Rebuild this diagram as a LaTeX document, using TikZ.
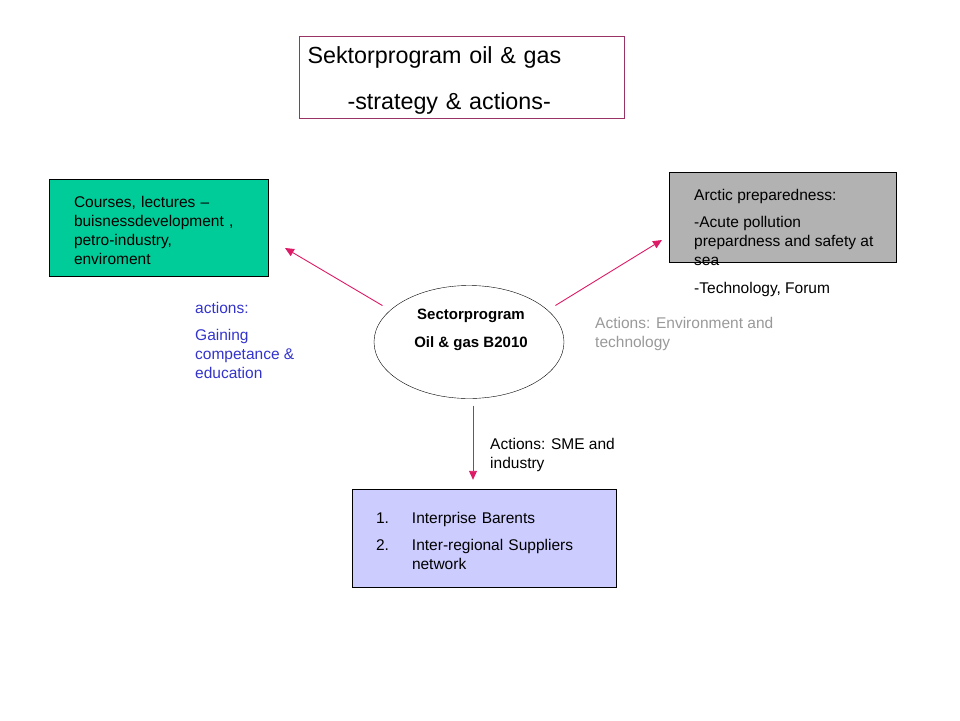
\documentclass[tikz,border=0pt]{standalone}
\usepackage{fontspec}
\setmainfont{Liberation Sans}
\usepackage{xcolor}
\usetikzlibrary{arrows.meta,positioning,calc,shapes.geometric}

\definecolor{framepink}{HTML}{993366}
\definecolor{arrowpink}{HTML}{DD1A66}
\definecolor{coursegreen}{HTML}{00CC99}
\definecolor{arcticgrey}{HTML}{B2B2B2}
\definecolor{smeblue}{HTML}{CCCCFF}
\definecolor{actblue}{HTML}{3333CC}
\definecolor{actgrey}{HTML}{999999}

\begin{document}
\begin{tikzpicture}[x=1pt, y=-1pt,
      font=\fontsize{15.5}{19}\selectfont,
      box/.style={draw, align=left, inner xsep=0pt, inner ysep=0pt},
      note/.style={align=left, anchor=north west, inner sep=0pt},
      act/.style={draw=arrowpink, line width=0.9pt,
                  -{Triangle[length=9pt, width=8pt]}},
      >={Stealth[]}]

    \useasboundingbox (0,0) rectangle (960,720);

    % title
    \node[box, draw=framepink, minimum width=325, minimum height=82,
          text width=308, font=\fontsize{23.3}{27}\selectfont] (title) at (461.5,77)
      {\rule{0pt}{24pt}Sektorprogram oil \& gas\\[19pt]
       \hspace*{40pt}-strategy \& actions-};

    % centre
    \node[draw, ellipse, minimum width=190, minimum height=113] (sect) at (469,342) {};
    \node[align=center, font=\bfseries\fontsize{15}{19}\selectfont] (secttxt)
      at (471,330) {Sectorprogram\\[9pt]Oil \& gas B2010};

    % three boxes
    \node[box, fill=coursegreen, minimum width=219, minimum height=97,
          text width=169] (course) at (158.5,227.5)
      {\rule{0pt}{18pt}Courses, lectures --\\ buisnessdevelopment ,\\ petro-industry,\\ enviroment};

    \node[box, fill=arcticgrey, minimum width=227, minimum height=90] (arctic)
      at (782.5,217) {};
    \node[note] (arctictxt) at (694,189)
      {Arctic preparedness:\\[8pt]
       -Acute pollution\\ prepardness and safety at\\ sea\\[9pt]
       -Technology, Forum};

    \node[box, fill=smeblue, minimum width=264, minimum height=98,
          text width=216] (sme) at (484,538)
      {\rule{0pt}{18pt}\makebox[36pt][l]{1.}Interprise Barents\\[8pt]
       \makebox[36pt][l]{2.}Inter-regional Suppliers\\
       \hspace*{36pt}network};

    % labels
    \node[note, text=actblue] (gain) at (195,302)
      {actions:\\[8pt]Gaining\\ competance \&\\ education};
    \node[note, text=actgrey] (envtech) at (595,317)
      {Actions: Environment and\\ technology};
    \node[note] (smelab) at (490,438) {Actions: SME and\\ industry};

    % arrows
    \coordinate (ctip) at (285,248);
    \coordinate (atip) at (662,240);
    \draw[act, shorten <=9pt] (sect.158) -- (ctip);
    \draw[act, shorten <=9pt] (sect.22) -- (atip);
    \draw[act, shorten <=7pt, shorten >=9pt] ([xshift=4pt]sect.south)
      -- ([xshift=4pt]sect.south |- sme.north);
  \end{tikzpicture}
\end{document}
